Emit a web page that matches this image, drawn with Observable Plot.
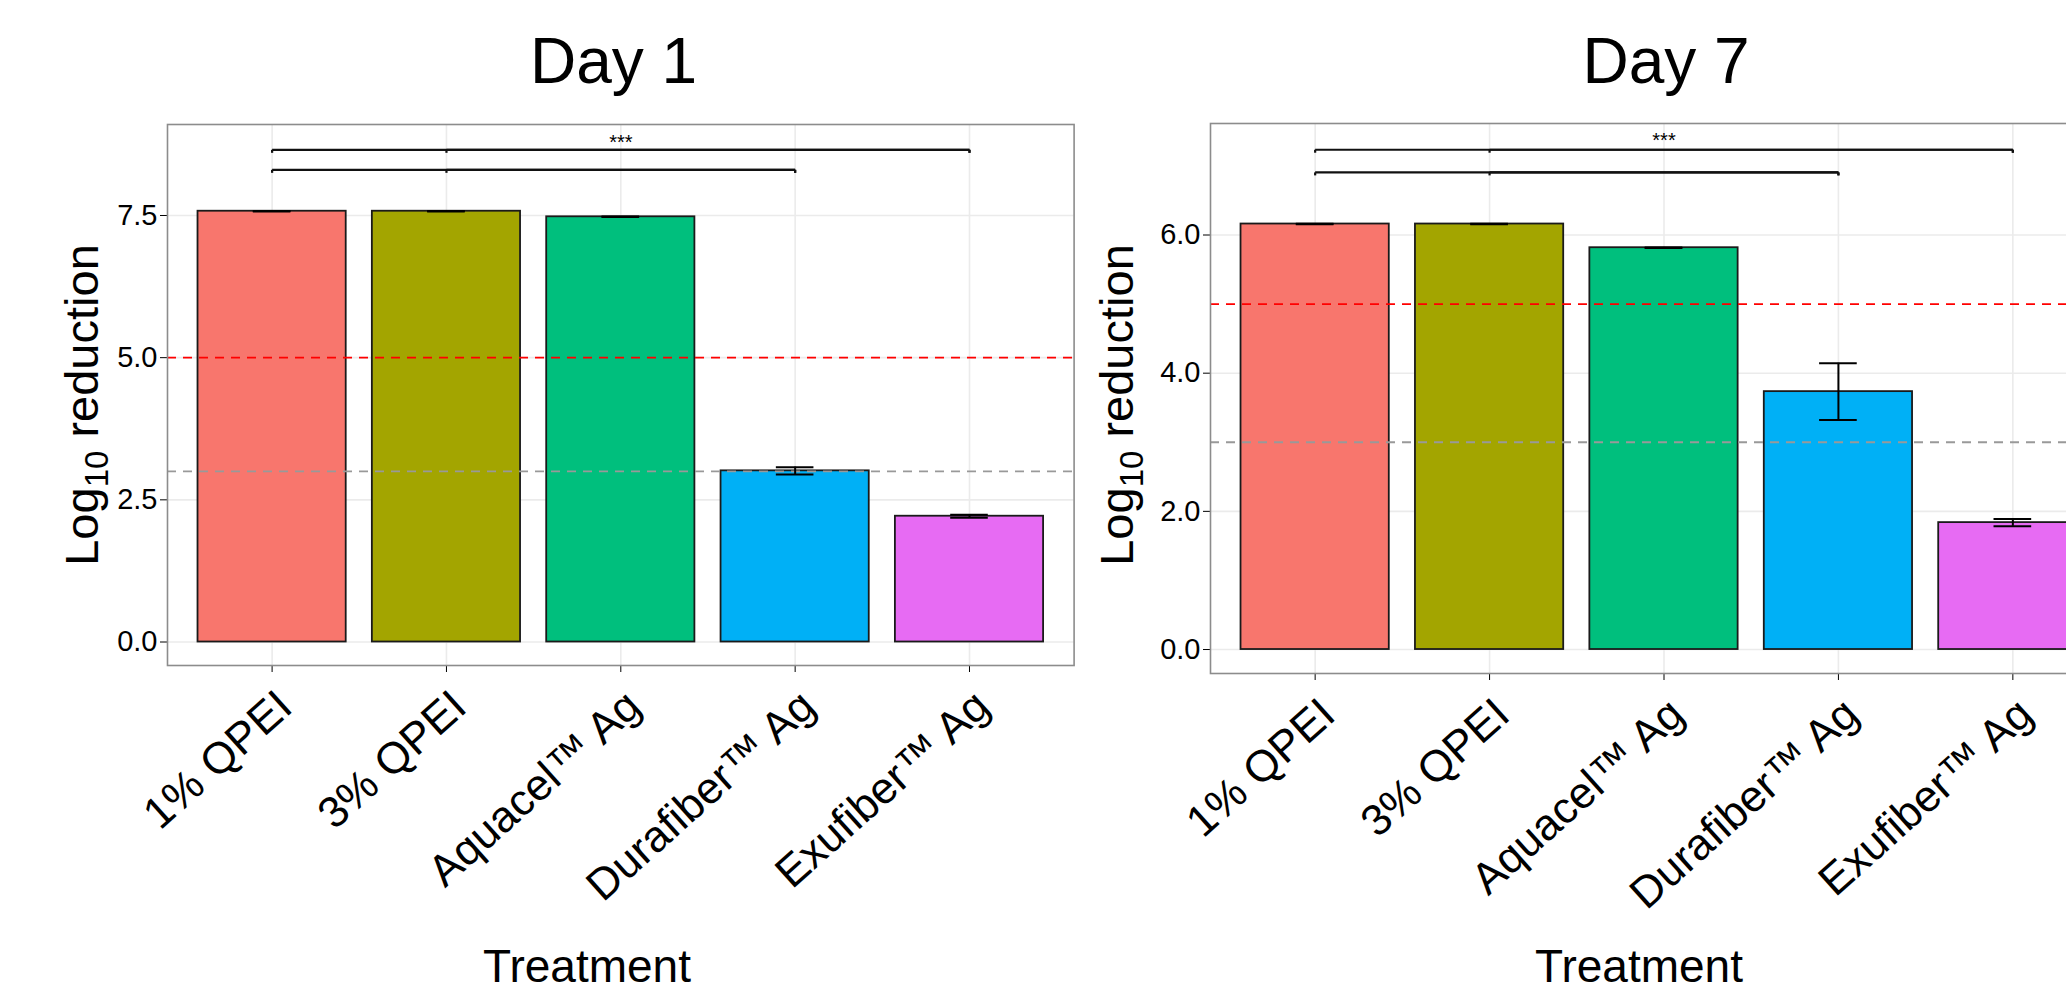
<!DOCTYPE html>
<html><head><meta charset="utf-8">
<script src="https://cdn.jsdelivr.net/npm/d3@7"></script>
<script src="https://cdn.jsdelivr.net/npm/@observablehq/plot@0.6"></script>
<style>
html,body{margin:0;padding:0;background:#fff;overflow:hidden;}
#wrap{position:relative;width:2066px;height:991px;overflow:hidden;background:#fff;}
#wrap svg{position:absolute;top:0;overflow:visible;}
</style></head><body><div id="wrap"></div>
<script>
// ---- data ----
const treatments = ["1% QPEI", "3% QPEI", "Aquacel™ Ag", "Durafiber™ Ag", "Exufiber™ Ag"];
const day1Mean = [7.575, 7.575, 7.477, 3.01, 2.212];
const day1SD   = [0.004, 0.004, 0.004, 0.065, 0.025];
const day7Mean = [6.159, 6.159, 5.816, 3.733, 1.837];
const day7SD   = [0.004, 0.004, 0.004, 0.41, 0.054];
const day1Ticks = [0, 2.5, 5, 7.5];
const day7Ticks = [0, 2, 4, 6];
const compareFrom = ["1% QPEI", "3% QPEI", "1% QPEI", "3% QPEI"];
const compareTo   = ["Exufiber™ Ag", "Exufiber™ Ag", "Durafiber™ Ag", "Durafiber™ Ag"];
const day1BracketY = [8.655, 8.655, 8.303, 8.303];
const day7BracketY = [7.234, 7.234, 6.906, 6.906];
const sigLabel = "***";
const sigAt = "Aquacel™ Ag";
const day1SigY = 8.79;
const day7SigY = 7.364;
const redLine = [5];
const greyLine = [3];
const palette = ["#F8766D", "#A3A500", "#00BF7D", "#00B0F6", "#E76BF3"];

const FONT = "Liberation Sans, Arial, Helvetica, sans-serif";
const wrap = document.getElementById("wrap");

function panel(o) {
  const rows = treatments.map((t, i) => ({t, m: o.means[i], s: o.sds[i]}));
  const brackets = compareFrom.map((f, i) => ({from: f, to: compareTo[i], y: o.bracketY[i]}));
  const capInset = 55.3;
  const svg = Plot.plot({
    width: o.width, height: 991,
    marginLeft: o.mL, marginRight: o.mR, marginTop: o.mT, marginBottom: o.mB,
    style: {fontFamily: FONT, fontSize: "29px", color: "#000", background: "transparent", overflow: "visible"},
    x: {domain: treatments, type: "band", paddingInner: 0.15, paddingOuter: 0.175, align: 0.5, round: false,
        tickSize: 7, tickFormat: () => "", label: null},
    y: {domain: o.yDomain, ticks: o.ticks, tickFormat: d3.format(".1f"), tickSize: 7, tickPadding: 3, label: null},
    color: {domain: treatments, range: palette},
    marks: [
      Plot.ruleY(o.ticks, {stroke: "#ebebeb", strokeWidth: 1.6}),
      Plot.ruleX(treatments, {stroke: "#ebebeb", strokeWidth: 1.6}),
      Plot.barY(rows, {x: "t", y: "m", fill: "t", stroke: "#1a1a1a", strokeWidth: 1.8}),
      Plot.ruleY(redLine, {stroke: "#ff0000", strokeWidth: 1.8, strokeDasharray: "9,7"}),
      Plot.ruleY(greyLine, {stroke: "#999999", strokeWidth: 1.8, strokeDasharray: "9,7"}),
      Plot.ruleX(rows, {x: "t", y1: d => d.m - d.s, y2: d => d.m + d.s, stroke: "#000", strokeWidth: 2}),
      Plot.tickY(rows, {x: "t", y: d => d.m + d.s, insetLeft: capInset, insetRight: capInset, stroke: "#000", strokeWidth: 2}),
      Plot.tickY(rows, {x: "t", y: d => d.m - d.s, insetLeft: capInset, insetRight: capInset, stroke: "#000", strokeWidth: 2}),
      Plot.link(brackets, {x1: "from", x2: "to", y1: "y", y2: "y", stroke: "#111", strokeWidth: 2.2}),
      Plot.link(brackets, {x1: "from", x2: "from", y1: "y", y2: d => d.y - o.tip, stroke: "#111", strokeWidth: 2.2}),
      Plot.link(brackets, {x1: "to", x2: "to", y1: "y", y2: d => d.y - o.tip, stroke: "#111", strokeWidth: 2.2}),
      Plot.text([sigLabel], {x: () => sigAt, y: () => o.sigY, text: d => d, fontSize: 20, fill: "#000"}),
      Plot.text(treatments, {x: d => d, text: d => d, frameAnchor: "bottom", rotate: -42, textAnchor: "end",
                             lineAnchor: "middle", fontSize: 44, fill: "#000", dx: 13, dy: 34}),
      Plot.frame({stroke: "#8c8c8c", strokeWidth: 1.6})
    ]
  });
  svg.style.left = o.left + "px";
  const s = d3.select(svg);
  // y-axis title with subscript
  const yt = s.append("text")
    .attr("transform", `translate(${o.yTitleX},405) rotate(-90)`)
    .attr("text-anchor", "middle").attr("font-size", 47).attr("fill", "#000")
    .attr("font-family", FONT).style("white-space", "pre");
  yt.append("tspan").text("Log");
  yt.append("tspan").attr("font-size", 33).attr("dy", 10).text("10");
  yt.append("tspan").attr("dy", -10).text(" reduction");
  // panel title
  s.append("text").attr("x", o.titleX).attr("y", 83).attr("text-anchor", "middle")
    .attr("font-size", 64).attr("font-family", FONT).attr("fill", "#000").text(o.title);
  // x-axis title
  s.append("text").attr("x", o.xTitleX).attr("y", 982).attr("text-anchor", "middle")
    .attr("font-size", 46).attr("font-family", FONT).attr("fill", "#000").text("Treatment");
  wrap.appendChild(svg);
}

panel({title: "Day 1", means: day1Mean, sds: day1SD, ticks: day1Ticks, yDomain: [-0.413, 9.10],
       bracketY: day1BracketY, tip: 0.053, sigY: day1SigY,
       left: 0, width: 1090, mL: 167, mR: 16.4, mT: 124, mB: 326,
       yTitleX: 98, titleX: 613.5, xTitleX: 587});
panel({title: "Day 7", means: day7Mean, sds: day7SD, ticks: day7Ticks, yDomain: [-0.347, 7.614],
       bracketY: day7BracketY, tip: 0.043, sigY: day7SigY,
       left: 1090, width: 1100, mL: 120, mR: 73, mT: 123, mB: 318,
       yTitleX: 43, titleX: 576, xTitleX: 549});
</script></body></html>
